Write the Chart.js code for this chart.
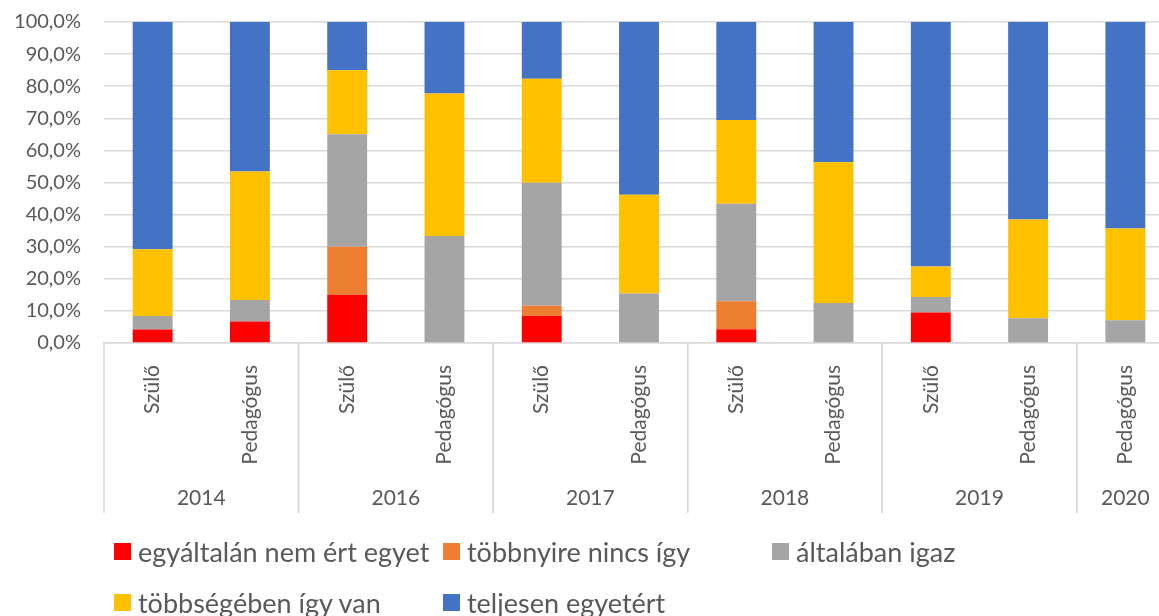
<!DOCTYPE html>
<html>
<head>
<meta charset="utf-8">
<script src="https://cdn.jsdelivr.net/npm/chart.js@4"></script>
<style>
    html, body { margin: 0; padding: 0; background: #fff; overflow: hidden; }
    #wrap { position: relative; width: 1159px; height: 616px; overflow: hidden; }
    /* plot area runs past the right edge in the original, so the canvas is wider than the page */
    #chart { position: absolute; left: 0; top: 0; }
    #legend {
        position: absolute; left: 114px; top: 526px;
        display: grid; grid-template-columns: 329px 329px 329px; grid-auto-rows: 51px;
        font-family: Lato, sans-serif; font-size: 27px; color: #595959;
    }
    .item { display: flex; align-items: center; white-space: nowrap; }
    .sw { width: 17px; height: 17px; margin-right: 7px; flex: none; }
</style>
</head>
<body>
<div id="wrap">
    <canvas id="chart" width="1174" height="616"></canvas>
    <div id="legend"></div>
</div>
<script>
// Categories: respondent group per survey year
const roles = ["Szülő", "Pedagógus", "Szülő", "Pedagógus", "Szülő", "Pedagógus",
               "Szülő", "Pedagógus", "Szülő", "Pedagógus", "Pedagógus"];
const years = ["2014", "2016", "2017", "2018", "2019", "2020"];
const yearSizes = [2, 2, 2, 2, 2, 1];

const seriesNames = ["egyáltalán nem ért egyet", "többnyire nincs így", "általában igaz",
                     "többségében így van", "teljesen egyetért"];
const seriesColors = ["#FF0000", "#ED7D31", "#A5A5A5", "#FFC000", "#4472C4"];

// Shares in percent, bottom of the stack first
const notAtAll  = [4.2, 6.7, 15.0, 0,    8.4,  0,    4.3,  0,    9.5,  0,    0];
const mostlyNot = [0,   0,   15.0, 0,    3.2,  0,    8.7,  0,    0,    0,    0];
const generally = [4.2, 6.7, 35.0, 33.3, 38.3, 15.4, 30.4, 12.5, 4.8,  7.7,  7.1];
const mostly    = [20.8, 40.0, 20.0, 44.4, 32.4, 30.8, 26.1, 43.8, 9.5, 30.8, 28.6];
const fully     = [70.8, 46.6, 15.0, 22.3, 17.7, 53.8, 30.5, 43.7, 76.2, 61.5, 64.3];
const seriesValues = [notAtAll, mostlyNot, generally, mostly, fully];

const FONT = "Lato, sans-serif";
const TEXT = "#595959";
const GRID = "#d9d9d9";

// Year row under the rotated labels, with the separators between groups
const yearGroupPlugin = {
    id: "yearGroups",
    afterDraw(chart) {
        const { ctx, chartArea } = chart;
        const x = chart.scales.x;
        const half = (x.getPixelForValue(1) - x.getPixelForValue(0)) / 2;
        const top = chartArea.bottom;
        const bottom = chartArea.bottom + 170;
        ctx.save();
        ctx.strokeStyle = GRID;
        ctx.lineWidth = 1.5;
        ctx.fillStyle = TEXT;
        ctx.font = `21px ${FONT}`;
        ctx.textAlign = "center";
        ctx.textBaseline = "middle";
        let start = 0;
        years.forEach((year, i) => {
            const left = x.getPixelForValue(start) - half;
            const right = x.getPixelForValue(start + yearSizes[i] - 1) + half;
            [left, right].forEach((px) => {
                ctx.beginPath();
                ctx.moveTo(px, top);
                ctx.lineTo(px, bottom);
                ctx.stroke();
            });
            ctx.fillText(year, (left + right) / 2, top + 155);
            start += yearSizes[i];
        });
        ctx.restore();
    },
};

const datasets = seriesNames.map((name, i) => ({
    label: name,
    data: seriesValues[i],
    backgroundColor: seriesColors[i],
    borderWidth: 0,
    barPercentage: 0.41,
    categoryPercentage: 1,
}));

new Chart(document.getElementById("chart"), {
    type: "bar",
    data: { labels: roles, datasets },
    options: {
        responsive: false,
        animation: false,
        layout: { padding: { top: 22, bottom: 103, left: 0, right: 0 } },
        scales: {
            x: {
                stacked: true,
                grid: { display: false },
                border: { display: true, color: GRID, width: 1.5 },
                ticks: {
                    autoSkip: false, minRotation: 90, maxRotation: 90, padding: 14,
                    color: TEXT, font: { family: FONT, size: 21 },
                },
                afterFit(scale) { scale.height = 170; },
            },
            y: {
                stacked: true,
                min: 0,
                max: 100,
                grid: { color: GRID, lineWidth: 1.5, drawTicks: false },
                border: { display: false },
                ticks: {
                    stepSize: 10, padding: 23, color: TEXT, font: { family: FONT, size: 20 },
                    callback: (v) => v.toFixed(1).replace(".", ",") + "%",
                },
                // the tick padding would otherwise also push the plot top down
                afterFit(scale) {
                    scale.width = 104;
                    scale.paddingTop = 0;
                    scale.paddingBottom = 0;
                },
            },
        },
        plugins: { legend: { display: false }, tooltip: { enabled: false } },
    },
    plugins: [yearGroupPlugin],
});

// Legend in fixed columns, as in the source
const legend = document.getElementById("legend");
seriesNames.forEach((name, i) => {
    const item = document.createElement("div");
    item.className = "item";
    item.innerHTML = `<span class="sw" style="background:${seriesColors[i]}"></span><span>${name}</span>`;
    legend.appendChild(item);
});
</script>
</body>
</html>
